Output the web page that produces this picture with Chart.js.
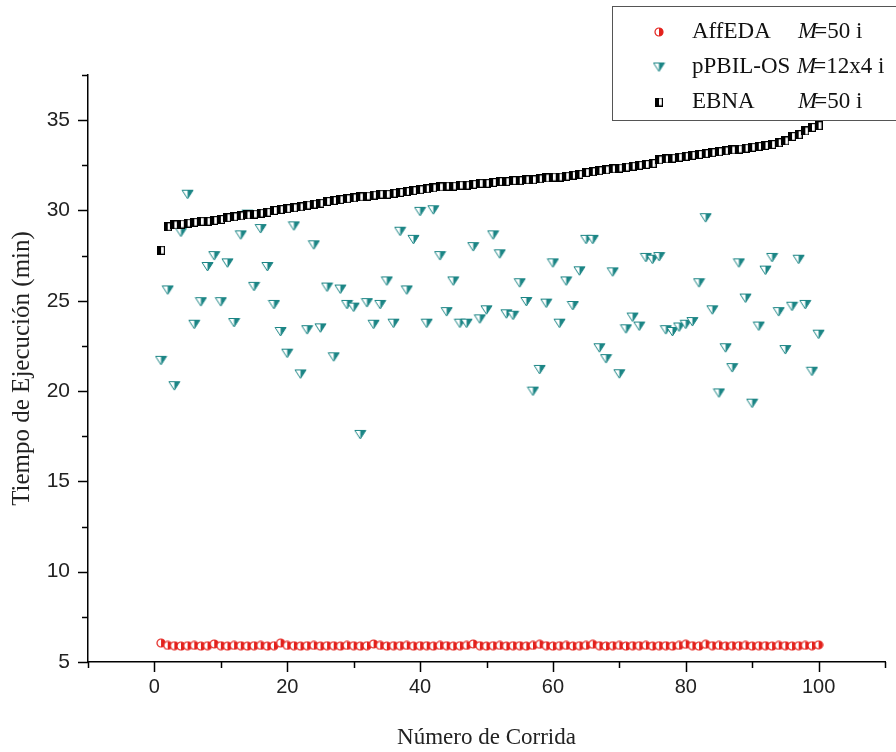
<!DOCTYPE html>
<html>
<head>
<meta charset="utf-8">
<script src="https://cdn.jsdelivr.net/npm/chart.js@4/dist/chart.umd.min.js"></script>
<style>
  html, body { margin: 0; padding: 0; background: #fff; }
  #wrap { width: 896px; height: 752px; }
</style>
</head>
<body>
<div id="wrap"><canvas id="myChart" width="896" height="752"></canvas></div>
<script>
// run number is the position in each array (1..100)
const affeda = [
  6.05, 5.92, 5.9, 5.88, 5.9, 5.92, 5.88, 5.9, 6.0, 5.9,
  5.88, 5.92, 5.9, 5.88, 5.9, 5.92, 5.88, 5.9, 6.05, 5.92,
  5.9, 5.88, 5.9, 5.92, 5.88, 5.9, 5.9, 5.88, 5.92, 5.9,
  5.88, 5.9, 6.0, 5.92, 5.88, 5.9, 5.9, 5.92, 5.88, 5.9,
  5.9, 5.88, 5.92, 5.9, 5.88, 5.9, 5.92, 6.0, 5.9, 5.88,
  5.9, 5.92, 5.88, 5.9, 5.9, 5.88, 5.92, 5.98, 5.9, 5.88,
  5.9, 5.92, 5.88, 5.9, 5.92, 5.98, 5.9, 5.88, 5.9, 5.92,
  5.88, 5.9, 5.9, 5.92, 5.88, 5.9, 5.9, 5.88, 5.92, 5.98,
  5.9, 5.88, 5.98, 5.9, 5.92, 5.88, 5.9, 5.9, 5.92, 5.88,
  5.9, 5.9, 5.88, 5.92, 5.9, 5.88, 5.9, 5.92, 5.9, 5.95
];
const ppbil = [
  21.7, 25.6, 20.3, 28.8, 30.9, 23.7, 24.95, 26.9, 27.5, 24.95,
  27.1, 23.8, 28.65, 29.8, 25.8, 29.0, 26.9, 24.8, 23.3, 22.1,
  29.15, 20.95, 23.4, 28.1, 23.5, 25.76, 21.9, 25.65, 24.8, 24.65,
  17.6, 24.9, 23.7, 24.8, 26.1, 23.76, 28.85, 25.6, 28.4, 29.95,
  23.76, 30.04, 27.5, 24.4, 26.1, 23.76, 23.76, 28.0, 24.0, 24.5,
  28.65, 27.6, 24.28, 24.2, 26.0, 24.96, 20.0, 21.2, 24.87, 27.1,
  23.76, 26.1, 24.74, 26.66, 28.4, 28.4, 22.4, 21.8, 26.6, 20.96,
  23.45, 24.1, 23.6, 27.4, 27.3, 27.45, 23.4, 23.3, 23.55, 23.7,
  23.85, 26.0, 29.6, 24.5, 19.9, 22.4, 21.3, 27.1, 25.15, 19.33,
  23.6, 26.7, 27.4, 24.4, 22.3, 24.7, 27.3, 24.8, 21.1, 23.15
];
const ebna = [
  27.8, 29.1, 29.2, 29.25, 29.3, 29.35, 29.4, 29.4, 29.45, 29.5,
  29.6, 29.65, 29.7, 29.75, 29.8, 29.85, 29.9, 30.0, 30.05, 30.1,
  30.15, 30.2, 30.3, 30.35, 30.4, 30.5, 30.55, 30.6, 30.65, 30.7,
  30.75, 30.8, 30.85, 30.9, 30.9, 30.95, 31.0, 31.05, 31.1, 31.15,
  31.2, 31.25, 31.3, 31.35, 31.35, 31.4, 31.4, 31.45, 31.5, 31.5,
  31.55, 31.6, 31.6, 31.65, 31.65, 31.7, 31.7, 31.75, 31.8, 31.85,
  31.85, 31.9, 31.95, 32.0, 32.1, 32.15, 32.2, 32.25, 32.3, 32.35,
  32.4, 32.45, 32.5, 32.55, 32.6, 32.8, 32.85, 32.9, 32.95, 33.0,
  33.05, 33.1, 33.15, 33.2, 33.25, 33.3, 33.35, 33.4, 33.45, 33.5,
  33.55, 33.6, 33.65, 33.75, 33.85, 34.1, 34.2, 34.4, 34.6, 34.7
];
const seriesNames = ['AffEDA', 'pPBIL-OS', 'EBNA'];
const seriesM = ['=50 i', '=12x4 i', '=50 i'];
const xLabels = [0, 20, 40, 60, 80, 100];
const yLabels = [5, 10, 15, 20, 25, 30, 35];

const TEAL = '#1b8585';
const RED = '#e3211c';

// half-filled marker images
function makeCircle() {
    const c = document.createElement('canvas');
    c.width = 10; c.height = 10;
    const g = c.getContext('2d');
    g.fillStyle = '#fff';
    g.beginPath(); g.arc(5, 5, 4, 0, Math.PI * 2); g.fill();
    g.fillStyle = RED;
    g.beginPath(); g.arc(5, 5, 4, -Math.PI / 2, Math.PI / 2); g.closePath(); g.fill();
    g.strokeStyle = RED; g.lineWidth = 1.2;
    g.beginPath(); g.arc(5, 5, 4, 0, Math.PI * 2); g.stroke();
    return c;
}
function makeTriangle() {
    const c = document.createElement('canvas');
    c.width = 13; c.height = 11;
    const g = c.getContext('2d');
    g.fillStyle = '#fff';
    g.beginPath(); g.moveTo(1, 1.5); g.lineTo(12, 1.5); g.lineTo(6.5, 10); g.closePath(); g.fill();
    g.fillStyle = TEAL;
    g.beginPath(); g.moveTo(6.5, 1.5); g.lineTo(12, 1.5); g.lineTo(6.5, 10); g.closePath(); g.fill();
    g.strokeStyle = TEAL; g.lineWidth = 1;
    g.beginPath(); g.moveTo(1, 1.5); g.lineTo(12, 1.5); g.lineTo(6.5, 10); g.closePath(); g.stroke();
    return c;
}
function makeSquare() {
    const c = document.createElement('canvas');
    c.width = 8; c.height = 9;
    const g = c.getContext('2d');
    g.fillStyle = '#fff';
    g.fillRect(0, 0, 8, 9);
    g.fillStyle = '#000';
    g.fillRect(0, 0, 4, 9);
    g.strokeStyle = '#000'; g.lineWidth = 1.2;
    g.strokeRect(0.6, 0.6, 6.8, 7.8);
    return c;
}
const markers = [makeCircle(), makeTriangle(), makeSquare()];

function toPoints(values) {
    return values.map((v, i) => ({ x: i + 1, y: v }));
}

// draws outward major/minor ticks
const tickPlugin = {
    id: 'ticks',
    afterDraw(chart) {
        const g = chart.ctx;
        const xs = chart.scales.x, ys = chart.scales.y;
        g.save();
        g.strokeStyle = '#000';
        g.lineWidth = 1.5;
        for (let v = -10; v <= 110; v += 10) {
            const px = Math.round(xs.getPixelForValue(v)) + 0.5;
            const len = (v % 20 === 0 && v >= 0 && v <= 100) ? 10 : 6;
            g.beginPath(); g.moveTo(px, ys.bottom); g.lineTo(px, ys.bottom + len); g.stroke();
        }
        for (let v = 5; v <= 37.5; v += 2.5) {
            const py = Math.round(ys.getPixelForValue(v)) + 0.5;
            const len = (v % 5 === 0) ? 10 : 6;
            g.beginPath(); g.moveTo(xs.left, py); g.lineTo(xs.left - len, py); g.stroke();
        }
        g.restore();
    }
};

const legendPlugin = {
    id: 'boxLegend',
    afterDraw(chart) {
        const g = chart.ctx;
        g.save();
        g.strokeStyle = '#555';
        g.lineWidth = 1;
        g.strokeRect(612.5, 6.5, 290, 114);
        const rows = [32, 67, 102];
        const mx = [798, 797, 798];
        g.fillStyle = '#111';
        g.textBaseline = 'middle';
        for (let i = 0; i < 3; i++) {
            const m = markers[i];
            g.drawImage(m, 659 - m.width / 2, rows[i] - m.height / 2);
            g.font = '23px "Liberation Serif", serif';
            g.fillText(seriesNames[i], 692, rows[i]);
            g.font = 'italic 23px "Liberation Serif", serif';
            g.fillText('M', mx[i], rows[i]);
            const w = g.measureText('M').width;
            g.font = '23px "Liberation Serif", serif';
            g.fillText(seriesM[i], mx[i] + w - 3, rows[i]);
        }
        g.restore();
    }
};

const ctx = document.getElementById('myChart').getContext('2d');
new Chart(ctx, {
    type: 'scatter',
    data: {
        datasets: [
            { label: seriesNames[0], data: toPoints(affeda), pointStyle: markers[0], order: 2 },
            { label: seriesNames[1], data: toPoints(ppbil), pointStyle: markers[1], order: 1 },
            { label: seriesNames[2], data: toPoints(ebna), pointStyle: markers[2], order: 0 }
        ]
    },
    options: {
        responsive: false,
        animation: false,
        layout: { padding: { top: 75, right: 11, left: 0, bottom: 0 } },
        plugins: {
            legend: { display: false },
            tooltip: { enabled: false }
        },
        scales: {
            x: {
                type: 'linear',
                min: -10, max: 110,
                border: { display: true, color: '#000', width: 1.5 },
                grid: { drawOnChartArea: false, drawTicks: true, tickLength: 10, tickColor: 'rgba(0,0,0,0)' },
                ticks: {
                    stepSize: 10,
                    autoSkip: false,
                    maxRotation: 0,
                    padding: 3,
                    color: '#222',
                    font: { family: '"Liberation Sans", Arial, sans-serif', size: 20 },
                    callback: v => xLabels.includes(v) ? String(v) : ''
                },
                title: {
                    display: true,
                    text: 'Número de Corrida',
                    color: '#222',
                    font: { family: '"Liberation Serif", serif', size: 23 },
                    padding: { top: 10, bottom: 0 }
                },
                afterFit(scale) { scale.height = 90; }
            },
            y: {
                type: 'linear',
                min: 5, max: 37.5,
                border: { display: true, color: '#000', width: 1.5 },
                grid: { drawOnChartArea: false, drawTicks: true, tickLength: 10, tickColor: 'rgba(0,0,0,0)' },
                ticks: {
                    stepSize: 2.5,
                    autoSkip: false,
                    padding: 8,
                    color: '#222',
                    font: { family: '"Liberation Sans", Arial, sans-serif', size: 21 },
                    callback: v => yLabels.includes(v) ? String(v) : ''
                },
                title: {
                    display: true,
                    text: 'Tiempo de Ejecución (min)',
                    color: '#222',
                    font: { family: '"Liberation Serif", serif', size: 25 },
                    padding: { top: 7, bottom: 4 }
                },
                afterFit(scale) { scale.width = 88; }
            }
        }
    },
    plugins: [tickPlugin, legendPlugin]
});
</script>
</body>
</html>
